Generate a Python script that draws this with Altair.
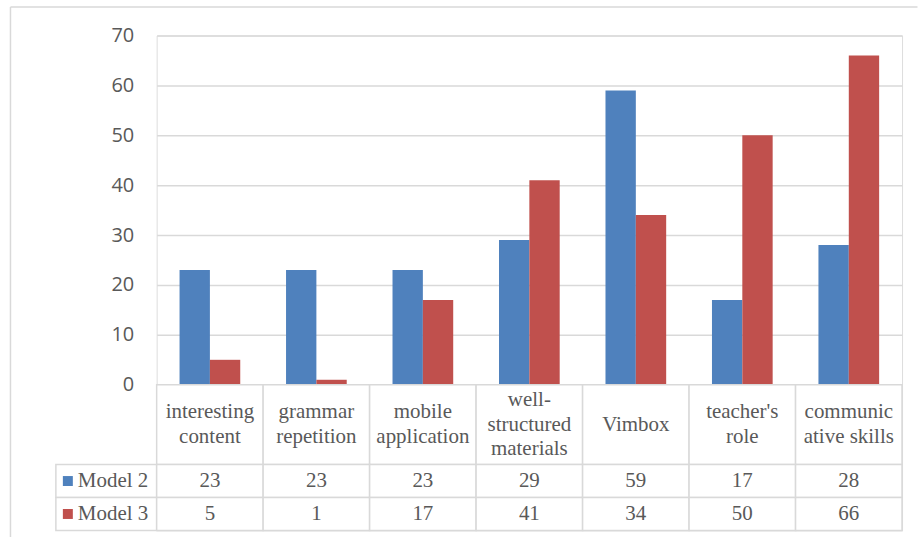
import altair as alt
import pandas as pd

categories = ["interesting content", "grammar repetition", "mobile application",
              "well-structured materials", "Vimbox", "teacher's role", "communicative skills"]
header_labels = ["interesting\ncontent", "grammar\nrepetition", "mobile\napplication",
                 "well-\nstructured\nmaterials", "Vimbox", "teacher's\nrole", "communic\native skills"]
models = ["Model 2", "Model 3"]
model2 = [23, 23, 23, 29, 59, 17, 28]
model3 = [5, 1, 17, 41, 34, 50, 66]
colors = ["#4F81BD", "#C0504D"]
y_ticks = [0, 10, 20, 30, 40, 50, 60, 70]

W = 747
HDR_H = 80
LINE_H = 24.5
GRID = "#d9d9d9"
TXT = "#595959"
SERIF = "Liberation Serif"

rows = []
for i, c in enumerate(categories):
    rows.append({"category": c, "model": "Model 2", "value": model2[i]})
    rows.append({"category": c, "model": "Model 3", "value": model3[i]})
df = pd.DataFrame(rows)

hdr = pd.DataFrame({"category": categories})
line_rows = []
for c, lab in zip(categories, header_labels):
    parts = lab.split("\n")
    n = len(parts)
    for j, p in enumerate(parts):
        line_rows.append({"category": c, "line": p,
                          "pos": HDR_H / 2 + (j - (n - 1) / 2) * LINE_H})
hdr_lines = pd.DataFrame(line_rows)

color_scale = alt.Scale(domain=models, range=colors)
x_bar = alt.X("category:N", sort=categories, axis=None,
              scale=alt.Scale(paddingInner=0.43, paddingOuter=0.215))
x_tab = alt.X("category:N", sort=categories, axis=None,
              scale=alt.Scale(paddingInner=0, paddingOuter=0))

one = alt.Data(values=[{"k": 1}])

border_top = alt.Chart(one).mark_rule(color=GRID, strokeWidth=1.5).encode(
    x=alt.value(-146.5), x2=alt.value(762.5), y=alt.value(-28.5))
border_left = alt.Chart(one).mark_rule(color=GRID, strokeWidth=1.5).encode(
    x=alt.value(-146.5), y=alt.value(-28.5), y2=alt.value(503))

bars = alt.Chart(df).mark_bar().encode(
    x=x_bar,
    xOffset=alt.XOffset("model:N", sort=models, scale=alt.Scale(paddingInner=0, paddingOuter=0)),
    y=alt.Y("value:Q", scale=alt.Scale(domain=[0, 70], nice=False),
            axis=alt.Axis(values=y_ticks, title=None, grid=True, gridColor=GRID, gridWidth=1.5,
                          domain=False, ticks=False, tickSize=0, labelPadding=23,
                          labelFont="Open Sans", labelFontSize=20, labelColor=TXT)),
    color=alt.Color("model:N", scale=color_scale, legend=None),
)

top = alt.layer(border_top, border_left, bars).properties(width=W, height=350)

hdr_cells = alt.Chart(hdr).mark_rect(fill="white", stroke=GRID, strokeWidth=1.5).encode(
    x=x_tab, y=alt.value(0), y2=alt.value(HDR_H))
hdr_text = alt.Chart(hdr_lines).mark_text(font=SERIF, fontSize=21, color=TXT,
                                          baseline="middle").encode(
    x=x_tab,
    y=alt.Y("pos:Q", axis=None, scale=alt.Scale(domain=[0, HDR_H], range=[0, HDR_H], nice=False)),
    text="line:N")
header = alt.layer(hdr_cells, hdr_text).properties(width=W, height=HDR_H)

y_row = alt.Y("model:N", sort=models, axis=None, scale=alt.Scale(paddingInner=0, paddingOuter=0))
val_cells = alt.Chart(df).mark_rect(fill="white", stroke=GRID, strokeWidth=1.5).encode(
    x=x_tab, y=y_row)
val_text = alt.Chart(df).mark_text(font=SERIF, fontSize=21, color=TXT, baseline="middle").encode(
    x=x_tab, y=y_row, text="value:Q")
leg_df = pd.DataFrame({"model": models})
leg_cells = alt.Chart(leg_df).mark_rect(fill="white", stroke=GRID, strokeWidth=1.5).encode(
    x=alt.value(-101), x2=alt.value(0), y=y_row)
leg_sq = alt.Chart(leg_df).mark_square(size=100, opacity=1).encode(
    x=alt.value(-89), y=y_row, color=alt.Color("model:N", scale=color_scale, legend=None))
leg_txt = alt.Chart(leg_df).mark_text(font=SERIF, fontSize=21, color=TXT, align="left",
                                      baseline="middle").encode(
    x=alt.value(-79), y=y_row, text="model:N")
values = alt.layer(leg_cells, val_cells, val_text, leg_sq, leg_txt).properties(width=W, height=66)

chart = alt.vconcat(top, header, values, spacing=0, bounds="flush").properties(
    padding={"left": 9, "top": 5, "right": 0, "bottom": 0}
).configure_view(stroke=None).configure(background="white")

chart.save("out.html", embed_options={"renderer": "svg", "actions": False})
